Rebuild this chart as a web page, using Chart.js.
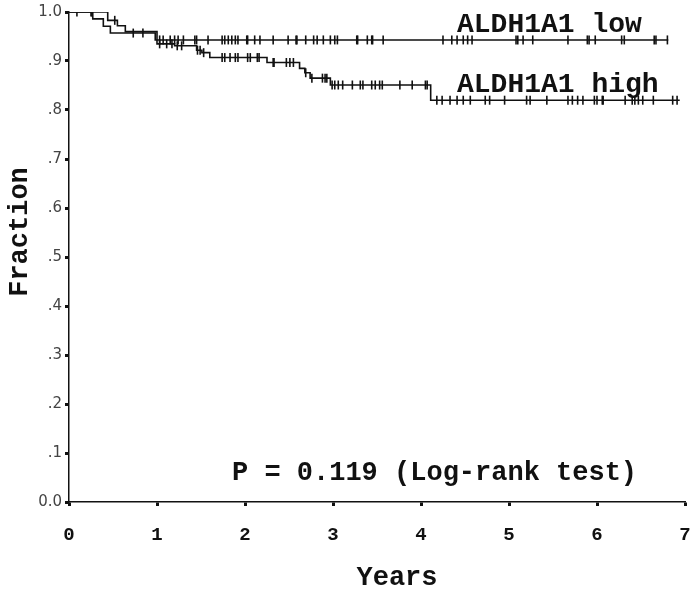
<!DOCTYPE html>
<html>
<head>
<meta charset="utf-8">
<script src="https://cdn.jsdelivr.net/npm/chart.js@4"></script>
<style>
  html, body { margin: 0; padding: 0; background: #fff; }
  #wrap { width: 695px; height: 592px; }
</style>
</head>
<body>
<div id="wrap"><canvas id="km"></canvas></div>
<script>
// Kaplan-Meier steps (years, fraction surviving)
let lowTimes = [0, 0.27, 0.39, 0.47, 0.98, 6.81]
let lowSurv = [1.0, 0.986, 0.971, 0.957, 0.943, 0.943]

let highTimes = [0, 0.44, 0.55, 0.64, 1.0, 1.2, 1.45, 1.51, 1.6, 2.25, 2.62, 2.68, 2.74, 2.97, 4.11, 6.94]
let highSurv = [1.0, 0.983, 0.972, 0.960, 0.935, 0.931, 0.922, 0.917, 0.907, 0.897, 0.885, 0.876, 0.865, 0.851, 0.820, 0.820]

// censored observations (years)
let lowCensor = [0.09, 0.25, 0.26, 0.73, 0.84, 1.03, 1.07, 1.15, 1.2, 1.24, 1.3, 1.43, 1.45, 1.58,
  1.74, 1.77, 1.81, 1.85, 1.89, 1.92, 2.02, 2.03, 2.11, 2.17, 2.32, 2.49, 2.58, 2.59, 2.69, 2.78,
  2.82, 2.89, 2.97, 3.02, 3.05, 3.27, 3.28, 3.39, 3.44, 3.45, 3.57, 4.25, 4.35, 4.41, 4.48, 4.53,
  4.58, 5.08, 5.1, 5.16, 5.27, 5.67, 5.89, 5.91, 5.98, 6.28, 6.31, 6.65, 6.67, 6.8]
let highCensor = [0.52, 1.03, 1.11, 1.17, 1.23, 1.28, 1.46, 1.49, 1.53, 1.74, 1.77, 1.83, 1.89, 1.92,
  2.03, 2.06, 2.14, 2.16, 2.32, 2.33, 2.47, 2.51, 2.55, 2.69, 2.76, 2.88, 2.91, 2.93, 2.99, 3.02,
  3.06, 3.11, 3.22, 3.31, 3.34, 3.44, 3.48, 3.53, 3.56, 3.76, 3.9, 4.05, 4.07, 4.18, 4.24, 4.33,
  4.41, 4.48, 4.56, 4.73, 4.78, 4.95, 5.2, 5.24, 5.43, 5.67, 5.72, 5.78, 5.84, 5.97, 6.0, 6.06,
  6.07, 6.32, 6.4, 6.43, 6.47, 6.52, 6.64, 6.86, 6.91]

let yTicks = [0, 0.1, 0.2, 0.3, 0.4, 0.5, 0.6, 0.7, 0.8, 0.9, 1.0]
let yTickLabels = ["0.0", ".1", ".2", ".3", ".4", ".5", ".6", ".7", ".8", ".9", "1.0"]
let xTickLabels = ["0", "1", "2", "3", "4", "5", "6", "7"]

let lowLabel = "ALDH1A1 low"
let highLabel = "ALDH1A1 high"
let pText = "P = 0.119 (Log-rank test)"
let xTitle = "Years"
let yTitle = "Fraction"

function steps(times, surv) {
    return times.map((t, i) => ({ x: t, y: surv[i] }))
}

function survAt(times, surv, t) {
    let s = surv[0]
    for (let i = 0; i < times.length; i++) {
        if (times[i] <= t) s = surv[i]
    }
    return s
}

function censorPoints(list, times, surv) {
    return list.map((t) => ({ x: t, y: survAt(times, surv, t) }))
}

const mono = '"Liberation Mono", "Courier New", monospace'

const textPlugin = {
    id: 'kmText',
    afterDraw(chart) {
        const ctx = chart.ctx
        ctx.save()
        ctx.fillStyle = '#111'
        ctx.font = 'bold 28px ' + mono
        ctx.textAlign = 'left'
        ctx.textBaseline = 'alphabetic'
        ctx.fillText(lowLabel, 457, 32)
        ctx.fillText(highLabel, 457, 92)
        ctx.font = 'bold 27px ' + mono
        ctx.fillText(pText, 232, 480)
        ctx.textAlign = 'center'
        ctx.fillText(xTitle, 397, 585)
        ctx.translate(27, 232)
        ctx.rotate(-Math.PI / 2)
        ctx.fillText(yTitle, 0, 0)
        ctx.restore()
    }
}

let curve = {
    showLine: true,
    stepped: true,
    borderColor: '#111',
    borderWidth: 1.6,
    pointRadius: 0,
    fill: false
}
let censor = {
    showLine: false,
    pointStyle: 'line',
    rotation: 90,
    radius: 4.5,
    borderColor: '#111',
    borderWidth: 1.6
}

new Chart(document.getElementById('km'), {
    type: 'scatter',
    data: {
        datasets: [
            Object.assign({ label: lowLabel, data: steps(lowTimes, lowSurv) }, curve),
            Object.assign({ label: highLabel, data: steps(highTimes, highSurv) }, curve),
            Object.assign({ label: 'low censored', data: censorPoints(lowCensor, lowTimes, lowSurv) }, censor),
            Object.assign({ label: 'high censored', data: censorPoints(highCensor, highTimes, highSurv) }, censor)
        ]
    },
    options: {
        responsive: true,
        maintainAspectRatio: false,
        animation: false,
        layout: { padding: { top: 12, right: 0, left: 0, bottom: 0 } },
        plugins: {
            legend: { display: false },
            tooltip: { enabled: false }
        },
        scales: {
            x: {
                type: 'linear',
                min: 0,
                max: 7,
                afterFit: (scale) => { scale.height = 90; scale.paddingRight = 10 },
                afterBuildTicks: (scale) => {
                    scale.ticks = xTickLabels.map((l, i) => ({ value: i }))
                },
                border: { color: '#111', width: 1.5 },
                grid: { drawOnChartArea: false, tickLength: 4, tickWidth: 3, tickColor: '#111' },
                ticks: {
                    padding: 18,
                    color: '#111',
                    font: { family: mono, size: 19, weight: 'bold' },
                    callback: (v, i) => xTickLabels[i]
                }
            },
            y: {
                type: 'linear',
                min: 0,
                max: 1,
                afterFit: (scale) => { scale.width = 69 },
                afterBuildTicks: (scale) => {
                    scale.ticks = yTicks.map((v) => ({ value: v }))
                },
                border: { color: '#111', width: 1.5 },
                grid: { drawOnChartArea: false, tickLength: 4, tickWidth: 3, tickColor: '#111' },
                ticks: {
                    padding: 3,
                    color: '#444',
                    font: { family: '"DejaVu Sans", sans-serif', size: 15 },
                    callback: (v, i) => yTickLabels[i]
                }
            }
        }
    },
    plugins: [textPlugin]
});
</script>
</body>
</html>
